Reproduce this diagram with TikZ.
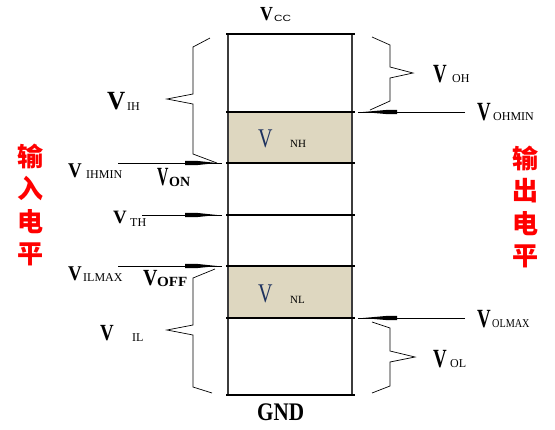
\documentclass[tikz,border=0pt]{standalone}
\usepackage{fontspec}
\usepackage{graphicx}
\setmainfont{Liberation Serif}
\newfontfamily\cjkfont{Noto Sans CJK SC}
\newfontfamily\sansfont{Liberation Sans}
\definecolor{noisefill}{RGB}{222,215,192}
\definecolor{vblue}{RGB}{30,50,95}
\definecolor{boxgray}{RGB}{60,60,60}
\newcommand\BV[2]{\scalebox{#1}[#2]{\fontsize{21}{21}\selectfont\bfseries V}}
\newcommand\RV[2]{\scalebox{#1}[#2]{\fontsize{20}{20}\selectfont V}}
\tikzset{
 lbl/.style={inner sep=0pt, anchor=base west},
 subl/.style={inner sep=0pt, anchor=base west, font=\fontsize{12}{12}\selectfont},
 levelline/.style={line width=2.8pt},
 sideline/.style={draw=boxgray, line width=1.4pt},
 bracel/.style={line width=0.7pt},
 lead/.style={line width=0.9pt},
 cn/.style={text=red, font=\fontsize{26}{32.5}\selectfont\cjkfont\bfseries, align=center, inner sep=0pt}
}
\newcommand\tapL[1]{\fill (185,{#1-2.2}) -- (196,{#1-2.2}) -- (217,#1) -- (196,{#1+2.2}) -- (185,{#1+2.2}) -- cycle;}
\newcommand\tapR[1]{\fill (397,{#1-2.2}) -- (388,{#1-2.2}) -- (363,#1) -- (388,{#1+2.2}) -- (397,{#1+2.2}) -- cycle;}
\begin{document}
\begin{tikzpicture}[x=1pt,y=-1pt]
\useasboundingbox (0,0) rectangle (555,429);
% shaded noise margins
\fill[noisefill] (228,112) rectangle (352,163);
\fill[noisefill] (228,266) rectangle (352,318);
% box sides
\draw[sideline] (228,34) -- (228,395);
\draw[sideline] (352,34) -- (352,395);
% levels
\foreach \yy in {34,112,163,215,266,318,395}
  \draw[levelline] (226,\yy) -- (355,\yy);
% arrow coordinates
\coordinate (ihmin) at (222,163);
\coordinate (th) at (222,215);
\coordinate (ilmax) at (222,266);
\coordinate (ohmin) at (358,112);
\coordinate (olmax) at (358,318);
\coordinate (ihminS) at (118,163);
\coordinate (thS) at (142,215);
\coordinate (ilmaxS) at (118,266);
\coordinate (ohminS) at (465,112);
\coordinate (olmaxS) at (465,318);
\draw[lead] (ihminS) -- (ihmin);
\draw[lead] (thS) -- (th);
\draw[lead] (ilmaxS) -- (ilmax);
\draw[lead] (ohminS) -- (ohmin);
\draw[lead] (olmaxS) -- (olmax);
\tapL{163}
\tapL{215}
\tapL{266}
\tapR{112}
\tapR{318}
% braces
\draw[bracel] (210,38) -- (193,47) -- (193,94) -- (167,99) -- (193,104) -- (193,154) -- (217,163);
\draw[bracel] (215,269) -- (193,278) -- (193,325) -- (167,330) -- (193,335) -- (193,387) -- (212,393);
\draw[bracel] (372,37) -- (390,45) -- (390,67) -- (413,73) -- (390,78) -- (390,101) -- (370,110);
\draw[bracel] (372,322) -- (390,328) -- (390,351) -- (415,357) -- (390,362) -- (390,386) -- (372,393);
% labels
\node[lbl] (vcc) at (260,20) {\BV{0.85}{0.95}};
\node[lbl, font=\sansfont\fontsize{9}{9}\selectfont] (vccs) at (274,21) {\scalebox{1.3}[1]{CC}};
\node[lbl] (vih) at (107,109) {\BV{1.2}{1.25}};
\node[subl] (vihs) at (127,110) {IH};
\node[lbl] (vihmin) at (68,177) {\BV{0.9}{1}};
\node[subl] (vihmins) at (86,178) {IHMIN};
\node[lbl] (von) at (157,185) {\BV{0.75}{1.25}};
\node[lbl, font=\fontsize{14}{14}\selectfont\bfseries] (vons) at (169,186) {ON};
\node[lbl] (vth) at (113,223) {\BV{0.9}{0.9}};
\node[subl] (vths) at (130,226) {TH};
\node[lbl] (vilmax) at (68,280) {\BV{0.9}{1}};
\node[subl] (vilmaxs) at (83,281) {ILMAX};
\node[lbl] (voff) at (143,285) {\BV{0.95}{1.1}};
\node[lbl, font=\fontsize{14}{14}\selectfont\bfseries] (voffs) at (157,286) {\scalebox{1.08}[1]{OFF}};
\node[lbl] (vil) at (100,340) {\BV{0.9}{1.1}};
\node[subl] (vils) at (132,341) {IL};
\node[lbl, text=vblue] (vnh) at (258,147) {\RV{1}{1.35}};
\node[lbl, font=\fontsize{11}{11}\selectfont] (vnhs) at (290,147) {NH};
\node[lbl, text=vblue] (vnl) at (258,302) {\RV{1}{1.35}};
\node[lbl, font=\fontsize{11}{11}\selectfont] (vnls) at (290,303) {NL};
\node[lbl, font=\fontsize{23}{23}\selectfont\bfseries] (gnd) at (257,420) {\scalebox{0.92}[1.1]{GND}};
\node[lbl] (voh) at (433,82) {\BV{0.9}{1.25}};
\node[subl] (vohs) at (452,82) {OH};
\node[lbl] (vohmin) at (477,120) {\BV{0.9}{1.25}};
\node[subl] (vohmins) at (493,120) {OHMIN};
\node[lbl] (volmax) at (477,327) {\BV{0.9}{1.25}};
\node[subl] (volmaxs) at (492,327) {\scalebox{0.85}[1]{OLMAX}};
\node[lbl] (vol) at (433,367) {\BV{0.9}{1.25}};
\node[subl] (vols) at (450,367) {OL};
% Chinese captions
\node[cn] (inlevel) at (30,205) {输\\入\\电\\平};
\node[cn] (outlevel) at (525,207) {输\\出\\电\\平};
\end{tikzpicture}
\end{document}
